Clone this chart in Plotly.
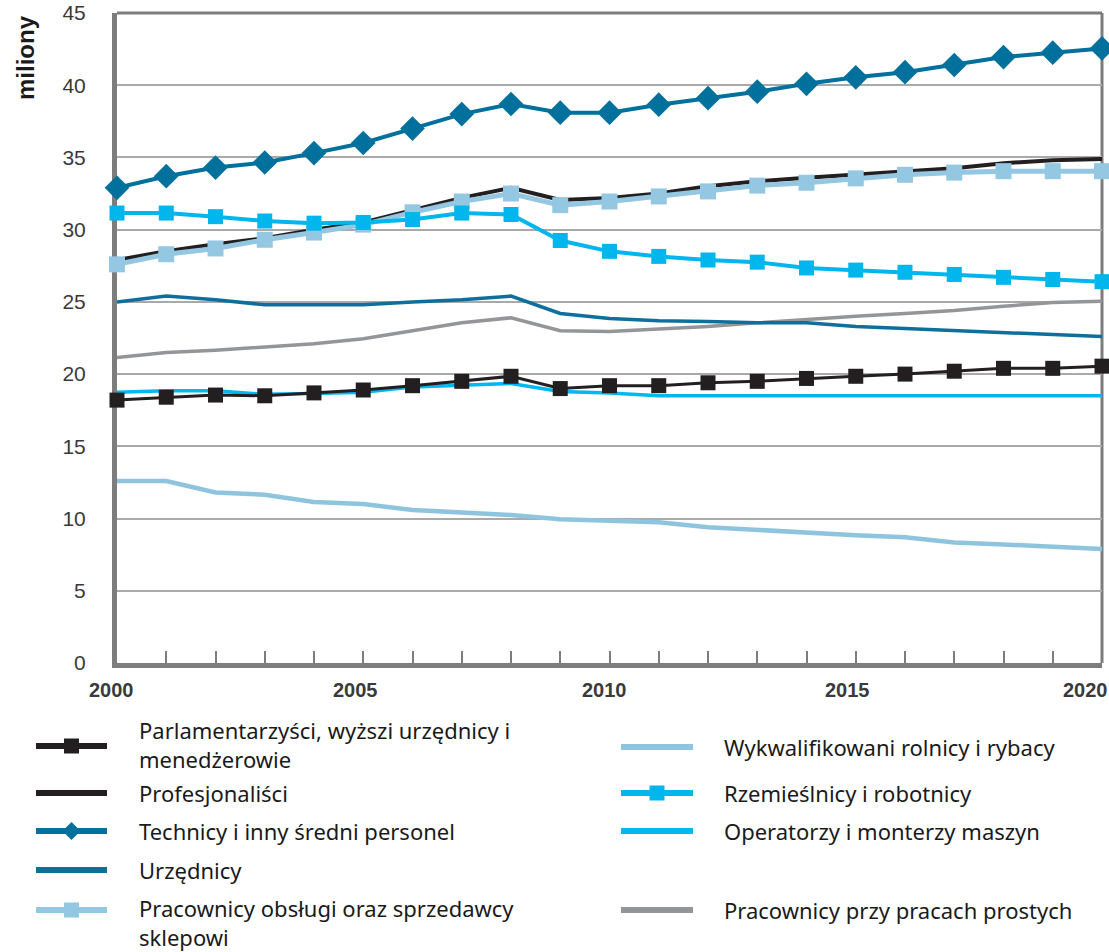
import plotly.graph_objects as go

# ---------------- data (millions) ----------------
years = list(range(2000, 2021))

parlamentarzysci = [18.2, 18.4, 18.55, 18.5, 18.7, 18.9, 19.2, 19.5, 19.85, 19.0, 19.2,
                    19.2, 19.4, 19.5, 19.7, 19.85, 20.0, 20.2, 20.4, 20.4, 20.55]
profesjonalisci = [27.9, 28.5, 29.0, 29.4, 30.0, 30.5, 31.35, 32.2, 32.9, 32.05, 32.2,
                   32.5, 33.0, 33.35, 33.6, 33.8, 34.0, 34.25, 34.6, 34.8, 34.9]
technicy = [32.9, 33.7, 34.3, 34.65, 35.3, 36.0, 37.0, 38.0, 38.7, 38.1, 38.1,
            38.65, 39.1, 39.55, 40.1, 40.55, 40.9, 41.4, 41.95, 42.25, 42.55]
urzednicy = [25.0, 25.4, 25.15, 24.8, 24.8, 24.8, 25.0, 25.15, 25.4, 24.2, 23.85,
             23.7, 23.65, 23.55, 23.55, 23.3, 23.15, 23.0, 22.9, 22.75, 22.6]
obsluga = [27.6, 28.3, 28.7, 29.3, 29.8, 30.35, 31.2, 31.95, 32.5, 31.7, 31.95,
           32.3, 32.65, 33.05, 33.25, 33.55, 33.8, 33.95, 34.05, 34.05, 34.05]
rolnicy = [12.6, 12.6, 11.8, 11.65, 11.15, 11.0, 10.6, 10.45, 10.25, 9.95, 9.85,
           9.75, 9.4, 9.2, 9.05, 8.85, 8.7, 8.35, 8.2, 8.05, 7.9]
rzemieslnicy = [31.15, 31.15, 30.9, 30.6, 30.45, 30.5, 30.7, 31.15, 31.05, 29.25, 28.5,
                28.15, 27.9, 27.75, 27.35, 27.2, 27.05, 26.9, 26.7, 26.55, 26.4]
operatorzy = [18.75, 18.85, 18.85, 18.6, 18.65, 18.75, 19.1, 19.2, 19.35, 18.8, 18.7,
              18.5, 18.5, 18.5, 18.5, 18.5, 18.5, 18.5, 18.5, 18.5, 18.5]
prace_proste = [21.15, 21.5, 21.65, 21.85, 22.1, 22.45, 23.0, 23.55, 23.9, 23.0, 22.95,
                23.1, 23.3, 23.55, 23.8, 24.0, 24.2, 24.4, 24.7, 24.95, 25.05]

y_tick_vals = [0, 5, 10, 15, 20, 25, 30, 35, 40, 45]
x_tick_years = [2000, 2005, 2010, 2015, 2020]
x_tick_labels = ["2000", "2005", "2010", "2015", "2020"]
y_title = "miliony"

names = {
    "parl": ["Parlamentarzyści, wyższi urzędnicy i", "menedżerowie"],
    "prof": ["Profesjonaliści"],
    "tech": ["Technicy i inny średni personel"],
    "urz": ["Urzędnicy"],
    "obsl": ["Pracownicy obsługi oraz sprzedawcy", "sklepowi"],
    "roln": ["Wykwalifikowani rolnicy i rybacy"],
    "rzem": ["Rzemieślnicy i robotnicy"],
    "oper": ["Operatorzy i monterzy maszyn"],
    "prost": ["Pracownicy przy pracach prostych"],
}
values = {
    "parl": parlamentarzysci, "prof": profesjonalisci, "tech": technicy,
    "urz": urzednicy, "obsl": obsluga, "roln": rolnicy, "rzem": rzemieslnicy,
    "oper": operatorzy, "prost": prace_proste,
}

# ---------------- styles ----------------
styles = {
    "parl": dict(color="#231f20", width=3, marker="square", msize=15),
    "prof": dict(color="#231f20", width=4, marker=None, msize=0),
    "tech": dict(color="#00709d", width=4, marker="diamond", msize=19),
    "urz": dict(color="#0f6f9c", width=3.5, marker=None, msize=0),
    "obsl": dict(color="#94c7e1", width=5, marker="square", msize=16),
    "roln": dict(color="#8fc4df", width=4.5, marker=None, msize=0),
    "rzem": dict(color="#00b6ec", width=4, marker="square", msize=15),
    "oper": dict(color="#00b8f0", width=3.5, marker=None, msize=0),
    "prost": dict(color="#939598", width=3.5, marker=None, msize=0),
}
draw_order = ["prost", "urz", "roln", "oper", "parl", "prof", "obsl", "rzem", "tech"]

W, H = 1109, 952
L, R, T, B = 117, 7, 13, 289
PW = W - L - R
PH = H - T - B


def fx(px):
    return (px - L) / PW


def fy(py):
    return (H - B - py) / PH


fig = go.Figure()
for key in draw_order:
    st = styles[key]
    kw = dict(x=years, y=values[key], name=" ".join(names[key]), showlegend=False,
              cliponaxis=False, line=dict(color=st["color"], width=st["width"]))
    if st["marker"]:
        kw["mode"] = "lines+markers"
        kw["marker"] = dict(symbol=st["marker"], size=st["msize"], color=st["color"],
                            line=dict(width=0))
    else:
        kw["mode"] = "lines"
    fig.add_trace(go.Scatter(**kw))

frame_col = "#7d7d7d"
grid_col = "#a9a9a9"

fig.update_xaxes(range=[2000, 2020], showgrid=False, zeroline=False,
                 showline=True, linewidth=5, linecolor=frame_col,
                 ticks="inside", tick0=2000, dtick=1, ticklen=12, tickwidth=2,
                 tickcolor=frame_col, showticklabels=False, layer="below traces",
                 automargin=False, fixedrange=True)
fig.update_yaxes(range=[0, 45], tickvals=y_tick_vals, showgrid=True, gridcolor=grid_col,
                 gridwidth=2, zeroline=False, showline=True, linewidth=5,
                 linecolor=frame_col, ticks="", ticklabelstandoff=22,
                 tickfont=dict(family="Liberation Sans, Arial, sans-serif", size=21,
                               color="#3a3a3a"),
                 layer="below traces", automargin=False, fixedrange=True)

shapes = [
    dict(type="line", xref="paper", yref="paper", x0=0, x1=1, y0=1, y1=1,
         line=dict(color=frame_col, width=3), layer="below"),
    dict(type="line", xref="paper", yref="paper", x0=1, x1=1, y0=0, y1=1,
         line=dict(color=frame_col, width=3), layer="below"),
]
annotations = []

# y-axis title
annotations.append(dict(text="<b>" + y_title + "</b>", xref="paper", yref="paper",
                        x=fx(26), y=fy(58), showarrow=False, textangle=-90,
                        xanchor="center", yanchor="middle",
                        font=dict(family="Liberation Sans, Arial, sans-serif", size=24,
                                  color="#1a1a1a")))

# x tick labels
x_label_shift = [-6, -8, -5, -8, -17]
for yr, lab, sh in zip(x_tick_years, x_tick_labels, x_label_shift):
    annotations.append(dict(text="<b>" + lab + "</b>", xref="x", yref="paper", x=yr,
                            y=fy(690), xshift=sh, showarrow=False, xanchor="center",
                            yanchor="middle",
                            font=dict(family="Liberation Sans, Arial, sans-serif",
                                      size=20, color="#3a3a3a")))

# manual legend
leg_font = dict(family="Noto Sans, Open Sans, sans-serif", size=22, color="#1a1a1a")
legend_layout = [
    # key, symbol x0, x1, symbol y, text x, text centre y
    ("parl", 36, 107, 746, 137, 745),
    ("prof", 36, 107, 793, 137, 793),
    ("tech", 36, 107, 831, 137, 831),
    ("urz", 36, 107, 870, 137, 870),
    ("obsl", 36, 107, 910, 137, 923),
    ("roln", 621, 693, 747, 722, 747),
    ("rzem", 621, 693, 793, 722, 793),
    ("oper", 621, 693, 831, 722, 831),
    ("prost", 621, 693, 910, 722, 910),
]
for key, sx0, sx1, sy, tx, ty in legend_layout:
    st = styles[key]
    shapes.append(dict(type="line", xref="paper", yref="paper", x0=fx(sx0), x1=fx(sx1),
                       y0=fy(sy), y1=fy(sy),
                       line=dict(color=st["color"], width=6)))
    cx = (sx0 + sx1) / 2
    if st["marker"] == "square":
        shapes.append(dict(type="rect", xref="paper", yref="paper", xsizemode="pixel",
                           ysizemode="pixel", xanchor=fx(cx), yanchor=fy(sy),
                           x0=-7.5, x1=7.5, y0=-7.5, y1=7.5, fillcolor=st["color"],
                           line=dict(width=0)))
    elif st["marker"] == "diamond":
        shapes.append(dict(type="path", xref="paper", yref="paper", xsizemode="pixel",
                           ysizemode="pixel", xanchor=fx(cx), yanchor=fy(sy),
                           path="M0,-9 L9,0 L0,9 L-9,0 Z", fillcolor=st["color"],
                           line=dict(width=0)))
    annotations.append(dict(text="<br>".join(names[key]), xref="paper", yref="paper",
                            x=fx(tx), y=fy(ty), showarrow=False, xanchor="left",
                            yanchor="middle", align="left", font=leg_font))

fig.update_layout(
    width=W, height=H,
    margin=dict(l=L, r=R, t=T, b=B, pad=0),
    paper_bgcolor="white", plot_bgcolor="white",
    showlegend=False,
    shapes=shapes, annotations=annotations,
)

fig.write_html("out.html")
